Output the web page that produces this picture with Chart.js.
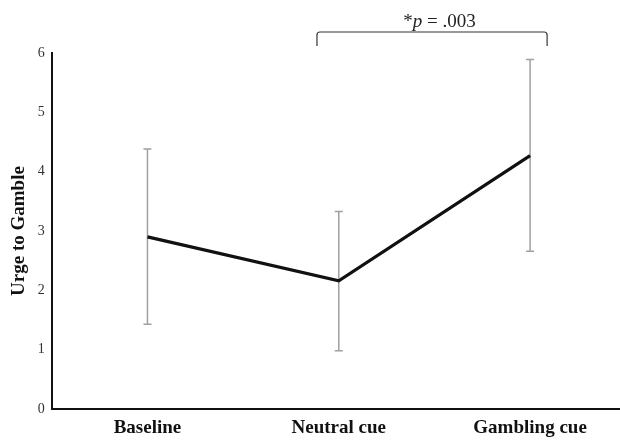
<!DOCTYPE html>
<html>
<head>
<meta charset="utf-8">
<script src="https://cdn.jsdelivr.net/npm/chart.js@4"></script>
<style>
  html, body { margin: 0; padding: 0; background: #fff; overflow: hidden; }
  #wrap { width: 620px; height: 443px; }
</style>
</head>
<body>
<div id="wrap"><canvas id="chart"></canvas></div>
<script>
// data
const categories = ['Baseline', 'Neutral cue', 'Gambling cue'];
const urgeMeans  = [2.90, 2.16, 4.27];
const errUpper   = [4.38, 3.33, 5.89];
const errLower   = [1.43, 0.98, 2.66];
const yTicks     = [0, 1, 2, 3, 4, 5, 6];
// bracket between Neutral cue and Gambling cue, label above it
const sigFrom = 0.886, sigTo = 2.089, sigY = 6.354, sigTextX = 1.527;
const sigParts = [['*', 'normal'], ['p', 'italic'], [' = .003', 'normal']];

const FONT = "'Liberation Serif', 'DejaVu Serif', serif";

// error bars with caps
const errorBars = {
  id: 'errorBars',
  beforeDatasetsDraw(chart) {
    const { ctx, scales: { x, y } } = chart;
    ctx.save();
    ctx.strokeStyle = '#a0a0a0';
    ctx.lineWidth = 1.5;
    urgeMeans.forEach((_, i) => {
      const px = x.getPixelForValue(i);
      const top = y.getPixelForValue(errUpper[i]);
      const bot = y.getPixelForValue(errLower[i]);
      ctx.beginPath();
      ctx.moveTo(px, top); ctx.lineTo(px, bot);
      ctx.moveTo(px - 4, top); ctx.lineTo(px + 4, top);
      ctx.moveTo(px - 4, bot); ctx.lineTo(px + 4, bot);
      ctx.stroke();
    });
    ctx.restore();
  }
};

// significance bracket + label
const bracket = {
  id: 'bracket',
  afterDraw(chart) {
    const { ctx, scales: { x, y } } = chart;
    const x0 = x.getPixelForValue(sigFrom);
    const x1 = x.getPixelForValue(sigTo);
    const yy = y.getPixelForValue(sigY);
    ctx.save();
    ctx.strokeStyle = '#333';
    ctx.lineWidth = 1.2;
    ctx.beginPath();
    ctx.moveTo(x0, yy + 14);
    ctx.lineTo(x0, yy + 3);
    ctx.quadraticCurveTo(x0, yy, x0 + 3, yy);
    ctx.lineTo(x1 - 3, yy);
    ctx.quadraticCurveTo(x1, yy, x1, yy + 3);
    ctx.lineTo(x1, yy + 14);
    ctx.stroke();

    // "*p = .003" with italic p
    ctx.fillStyle = '#222';
    ctx.textBaseline = 'alphabetic';
    let total = 0;
    sigParts.forEach(([t, s]) => { ctx.font = `${s} 19px ${FONT}`; total += ctx.measureText(t).width; });
    let cx = x.getPixelForValue(sigTextX) - total / 2;
    sigParts.forEach(([t, s]) => {
      ctx.font = `${s} 19px ${FONT}`;
      ctx.fillText(t, cx, yy - 5);
      cx += ctx.measureText(t).width;
    });
    ctx.restore();
  }
};

new Chart(document.getElementById('chart'), {
  type: 'line',
  data: {
    datasets: [{
      data: urgeMeans.map((v, i) => ({ x: i, y: v })),
      borderColor: '#111',
      borderWidth: 3.2,
      pointRadius: 0,
      tension: 0,
      fill: false
    }]
  },
  options: {
    responsive: true,
    maintainAspectRatio: false,
    animation: false,
    layout: { padding: { top: 53, right: 0, left: 8, bottom: 0 } },
    plugins: { legend: { display: false }, tooltip: { enabled: false } },
    scales: {
      x: {
        type: 'linear',
        min: -0.5,
        max: 2.47,
        afterBuildTicks: ax => { ax.ticks = categories.map((_, i) => ({ value: i })); },
        afterFit: ax => { ax.height = 34; },
        grid: { display: false, drawTicks: false },
        border: { display: true, color: '#111', width: 2 },
        ticks: {
          padding: 8,
          color: '#111',
          font: { family: FONT, size: 19, weight: 'bold' },
          callback: v => categories[v] ?? ''
        }
      },
      y: {
        min: 0,
        max: 6,
        afterBuildTicks: ax => { ax.ticks = yTicks.map(v => ({ value: v })); },
        grid: { display: false, drawTicks: false },
        border: { display: true, color: '#111', width: 2 },
        ticks: {
          padding: 7,
          color: '#333',
          font: { family: FONT, size: 14 }
        },
        title: {
          display: true,
          text: 'Urge to Gamble',
          color: '#111',
          padding: { top: 0, bottom: 0 },
          font: { family: FONT, size: 19, weight: 'bold' }
        }
      }
    }
  },
  plugins: [errorBars, bracket]
});
</script>
</body>
</html>
